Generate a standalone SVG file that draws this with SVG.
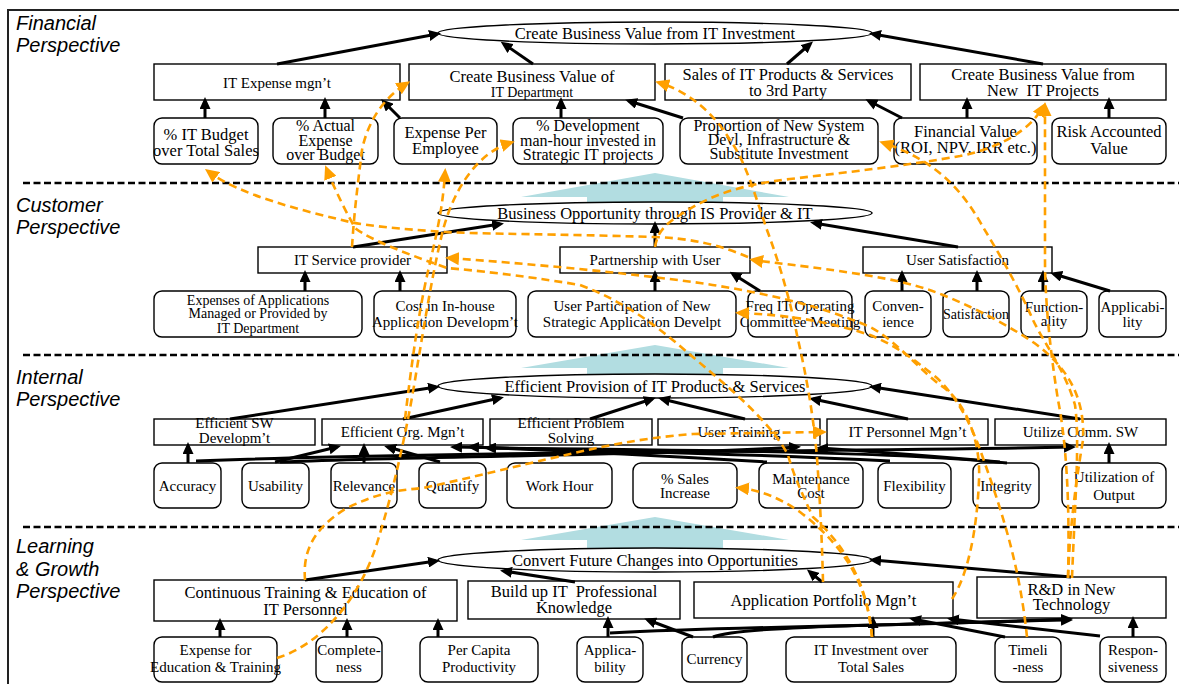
<svg xmlns="http://www.w3.org/2000/svg" width="1179" height="684" viewBox="0 0 1179 684">
<defs>
<style>
.n rect{fill:#fff;stroke:#000;stroke-width:1.4}
.n ellipse{fill:#fff;stroke:#000;stroke-width:1.4}
text{font-family:"Liberation Serif","Times New Roman",serif;fill:#000;text-anchor:middle}
.a{font-size:16.5px}
.a3{font-size:16px}
.b{font-size:15px}
.c{font-size:14px}
.lbl{font-family:"Liberation Sans",Arial,sans-serif;font-style:italic;font-size:20px;text-anchor:start}
.sep{stroke:#000;stroke-width:2.5;stroke-dasharray:7 3.5}
.k{stroke:#000;stroke-width:3;fill:none;marker-end:url(#ah)}
.o{stroke:#FFA000;stroke-width:2.6;stroke-dasharray:8 5;fill:none;marker-end:url(#oh)}
.tl{fill:#B2DDE1}
</style>
<marker id="ah" markerWidth="12" markerHeight="11" refX="8" refY="5.5" orient="auto" markerUnits="userSpaceOnUse"><path d="M0,0 L12,5.5 L0,11 z" fill="#000"/></marker>
<marker id="oh" markerWidth="14" markerHeight="13" refX="9" refY="6.5" orient="auto" markerUnits="userSpaceOnUse"><path d="M0,0 L14,6.5 L0,13 z" fill="#FFA000"/></marker>
</defs>
<rect width="1179" height="684" fill="#fff"/>
<!-- frame -->
<path d="M8,684 V10 H1179" fill="none" stroke="#222" stroke-width="2"/>
<!-- section labels -->
<text class="lbl" x="16" y="30">Financial<tspan x="16" dy="22">Perspective</tspan></text>
<text class="lbl" x="16" y="212">Customer<tspan x="16" dy="22">Perspective</tspan></text>
<text class="lbl" x="16" y="384">Internal<tspan x="16" dy="22">Perspective</tspan></text>
<text class="lbl" x="16" y="553">Learning<tspan x="16" dy="23">&amp; Growth</tspan><tspan x="16" dy="22">Perspective</tspan></text>
<!-- upward block arrows between perspectives -->
<path class="tl" d="M655,173 L789,197 L723,197 V206 H587 V197 L521,197 z"/>
<path class="tl" d="M655,345 L789,368 L723,368 V378 H587 V368 L521,368 z"/>
<path class="tl" d="M655,517 L789,540 L723,540 V550 H587 V540 L521,540 z"/>
<!-- perspective separators -->
<line class="sep" x1="23" y1="183" x2="1179" y2="183"/>
<line class="sep" x1="23" y1="355" x2="1179" y2="355"/>
<line class="sep" x1="23" y1="527" x2="1179" y2="527"/>

<!-- Financial perspective -->
<g id="f-goal" class="n"><ellipse cx="655" cy="33" rx="217" ry="11"/><text class="a" x="655" y="39">Create Business Value from IT Investment</text></g>
<g id="f-expense" class="n"><rect x="154" y="64" width="246" height="36"/><text class="b" x="277" y="88">IT Expense mgn’t</text></g>
<g id="f-itdept" class="n"><rect x="409" y="64" width="246" height="36"/><text class="a" x="532" y="82">Create Business Value of<tspan class="c" x="532" dy="15">IT Department</tspan></text></g>
<g id="f-sales" class="n"><rect x="665" y="64" width="246" height="36"/><text class="a" x="788" y="80">Sales of IT Products &amp; Services<tspan x="788" dy="16">to 3rd Party</tspan></text></g>
<g id="f-newproj" class="n"><rect x="920" y="64" width="246" height="36"/><text class="a" x="1043" y="80" xml:space="preserve">Create Business Value from<tspan x="1043" dy="16">New  IT Projects</tspan></text></g>
<g id="f-budget" class="n"><rect x="154" y="118" width="104" height="46" rx="8"/><text class="a" x="206" y="140">% IT Budget<tspan x="206" dy="16">over Total Sales</tspan></text></g>
<g id="f-actual" class="n"><rect x="273" y="118" width="105" height="46" rx="8"/><text class="a3" x="325.5" y="131">% Actual<tspan x="325.5" dy="15">Expense</tspan><tspan x="325.5" dy="14">over Budget</tspan></text></g>
<g id="f-perempl" class="n"><rect x="394" y="118" width="103" height="46" rx="8"/><text class="a" x="445.5" y="138">Expense Per<tspan x="445.5" dy="16">Employee</tspan></text></g>
<g id="f-devhour" class="n"><rect x="513" y="118" width="150" height="46" rx="8"/><text class="a3" x="588" y="131">% Development<tspan x="588" dy="15">man-hour invested in</tspan><tspan x="588" dy="14">Strategic IT projects</tspan></text></g>
<g id="f-proportion" class="n"><rect x="680" y="118" width="198" height="46" rx="8"/><text class="a3" x="779" y="131">Proportion of New System<tspan x="779" dy="14">Devl, Infrastructure &amp;</tspan><tspan x="779" dy="14">Substitute Investment</tspan></text></g>
<g id="f-finvalue" class="n"><rect x="894" y="118" width="143" height="46" rx="8"/><text class="a" x="965.5" y="137">Financial Value<tspan x="965.5" dy="16">(ROI, NPV, IRR etc.)</tspan></text></g>
<g id="f-risk" class="n"><rect x="1052" y="118" width="114" height="46" rx="8"/><text class="a" x="1109" y="137">Risk Accounted<tspan x="1109" dy="17">Value</tspan></text></g>

<!-- Customer perspective -->
<g id="c-goal" class="n"><ellipse cx="655" cy="213" rx="217" ry="11"/><text class="a" x="655" y="219">Business Opportunity through IS Provider &amp; IT</text></g>
<g id="c-provider" class="n"><rect x="258" y="247" width="189" height="26"/><text class="b" x="352.5" y="265">IT Service provider</text></g>
<g id="c-partner" class="n"><rect x="560" y="247" width="190" height="26"/><text class="b" x="655" y="265">Partnership with User</text></g>
<g id="c-usersat" class="n"><rect x="863" y="247" width="189" height="26"/><text class="b" x="957.5" y="265">User Satisfaction</text></g>
<g id="c-appexp" class="n"><rect x="154" y="291" width="208" height="46" rx="8"/><text class="c" x="258" y="305">Expenses of Applications<tspan x="258" dy="13">Managed or Provided by</tspan><tspan x="258" dy="15">IT Department</tspan></text></g>
<g id="c-inhouse" class="n"><rect x="374" y="291" width="142" height="46" rx="8"/><text class="b" x="445" y="311">Cost in In-house<tspan x="445" dy="16">Application Developm’t</tspan></text></g>
<g id="c-particip" class="n"><rect x="528" y="291" width="208" height="46" rx="8"/><text class="b" x="632" y="311">User Participation of New<tspan x="632" dy="16">Strategic Application Develpt</tspan></text></g>
<g id="c-committee" class="n"><rect x="748" y="291" width="104" height="46" rx="8"/><text class="b" x="800" y="311">Freq IT Operating<tspan x="800" dy="16">Committee Meeting</tspan></text></g>
<g id="c-conven" class="n"><rect x="865" y="291" width="66" height="46" rx="8"/><text class="b" x="898" y="311">Conven-<tspan x="898" dy="16">ience</tspan></text></g>
<g id="c-satis" class="n"><rect x="943" y="291" width="66" height="46" rx="8"/><text class="c" x="976" y="319">Satisfaction</text></g>
<g id="c-function" class="n"><rect x="1021" y="291" width="66" height="46" rx="8"/><text class="b" x="1054" y="312">Function-<tspan x="1054" dy="14">ality</tspan></text></g>
<g id="c-applic" class="n"><rect x="1099" y="291" width="67" height="46" rx="8"/><text class="b" x="1132.5" y="312">Applicabi-<tspan x="1132.5" dy="15">lity</tspan></text></g>

<!-- Internal perspective -->
<g id="i-goal" class="n"><ellipse cx="655" cy="386" rx="217" ry="12"/><text class="a" x="655" y="392">Efficient Provision of IT Products &amp; Services</text></g>
<g id="i-swdev" class="n"><rect x="154" y="419" width="161" height="26"/><text class="b" x="234.5" y="428">Efficient SW<tspan x="234.5" dy="15">Developm’t</tspan></text></g>
<g id="i-org" class="n"><rect x="322" y="419" width="161" height="26"/><text class="b" x="402.5" y="437">Efficient Org. Mgn’t</text></g>
<g id="i-problem" class="n"><rect x="490" y="419" width="162" height="26"/><text class="b" x="571" y="428">Efficient Problem<tspan x="571" dy="15">Solving</tspan></text></g>
<g id="i-training" class="n"><rect x="658" y="419" width="162" height="26"/><text class="b" x="739" y="437">User Training</text></g>
<g id="i-personnel" class="n"><rect x="827" y="419" width="161" height="26"/><text class="b" x="907.5" y="437">IT Personnel Mgn’t</text></g>
<g id="i-commsw" class="n"><rect x="995" y="419" width="171" height="26"/><text class="b" x="1080.5" y="437">Utilize Comm. SW</text></g>
<g id="i-accuracy" class="n"><rect x="154" y="463" width="67" height="45" rx="8"/><text class="b" x="187.5" y="491">Accuracy</text></g>
<g id="i-usability" class="n"><rect x="242" y="463" width="67" height="45" rx="8"/><text class="b" x="275.5" y="491">Usability</text></g>
<g id="i-relevance" class="n"><rect x="331" y="463" width="66" height="45" rx="8"/><text class="b" x="364" y="491">Relevance</text></g>
<g id="i-quantify" class="n"><rect x="419" y="463" width="67" height="45" rx="8"/><text class="b" x="452.5" y="491">Quantify</text></g>
<g id="i-workhour" class="n"><rect x="507" y="463" width="105" height="45" rx="8"/><text class="b" x="559.5" y="491">Work Hour</text></g>
<g id="i-salesinc" class="n"><rect x="633" y="463" width="104" height="45" rx="8"/><text class="b" x="685" y="484">% Sales<tspan x="685" dy="14">Increase</tspan></text></g>
<g id="i-maint" class="n"><rect x="759" y="463" width="104" height="45" rx="8"/><text class="b" x="811" y="484">Maintenance<tspan x="811" dy="14">Cost</tspan></text></g>
<g id="i-flex" class="n"><rect x="878" y="463" width="73" height="45" rx="8"/><text class="b" x="914.5" y="491">Flexibility</text></g>
<g id="i-integrity" class="n"><rect x="973" y="463" width="66" height="45" rx="8"/><text class="b" x="1006" y="491">Integrity</text></g>
<g id="i-output" class="n"><rect x="1062" y="463" width="104" height="45" rx="8"/><text class="b" x="1114" y="482">Utilization of<tspan x="1114" dy="18">Output</tspan></text></g>

<!-- Learning & Growth perspective -->
<g id="l-goal" class="n"><ellipse cx="655" cy="560" rx="217" ry="12"/><text class="a" x="655" y="566">Convert Future Changes into Opportunities</text></g>
<g id="l-education" class="n"><rect x="154" y="580" width="303" height="41"/><text class="a" x="305.5" y="598">Continuous Training &amp; Education of<tspan x="305.5" dy="17">IT Personnel</tspan></text></g>
<g id="l-knowledge" class="n"><rect x="468" y="581" width="212" height="38"/><text class="a" x="574" y="597" xml:space="preserve">Build up IT  Professional<tspan x="574" dy="16">Knowledge</tspan></text></g>
<g id="l-portfolio" class="n"><rect x="694" y="582" width="259" height="36"/><text class="a" x="823.5" y="606">Application Portfolio Mgn’t</text></g>
<g id="l-rnd" class="n"><rect x="977" y="577" width="189" height="41"/><text class="a" x="1071.5" y="595">R&amp;D in New<tspan x="1071.5" dy="15">Technology</tspan></text></g>
<g id="l-eduexp" class="n"><rect x="154" y="637" width="123" height="45" rx="8"/><text class="b" x="215.5" y="655">Expense for<tspan x="215.5" dy="17">Education &amp; Training</tspan></text></g>
<g id="l-complete" class="n"><rect x="316" y="637" width="66" height="45" rx="8"/><text class="b" x="349" y="655">Complete-<tspan x="349" dy="17">ness</tspan></text></g>
<g id="l-percapita" class="n"><rect x="420" y="637" width="118" height="45" rx="8"/><text class="b" x="479" y="655">Per Capita<tspan x="479" dy="17">Productivity</tspan></text></g>
<g id="l-applic" class="n"><rect x="577" y="637" width="66" height="45" rx="8"/><text class="b" x="610" y="655">Applica-<tspan x="610" dy="17">bility</tspan></text></g>
<g id="l-currency" class="n"><rect x="682" y="637" width="65" height="45" rx="8"/><text class="b" x="714.5" y="664">Currency</text></g>
<g id="l-investment" class="n"><rect x="786" y="637" width="170" height="45" rx="8"/><text class="b" x="871" y="655">IT Investment over<tspan x="871" dy="17">Total Sales</tspan></text></g>
<g id="l-timeliness" class="n"><rect x="995" y="637" width="66" height="45" rx="8"/><text class="b" x="1028" y="655">Timeli<tspan x="1028" dy="17">-ness</tspan></text></g>
<g id="l-respons" class="n"><rect x="1100" y="637" width="66" height="45" rx="8"/><text class="b" x="1133" y="655">Respon-<tspan x="1133" dy="17">siveness</tspan></text></g>

<!-- cause-effect links within perspectives -->
<g id="links">
<path class="k" d="M277,64 L437,34"/>
<path class="k" d="M533,64 L504,44"/>
<path class="k" d="M787,64 L810,44"/>
<path class="k" d="M1043,64 L873,34"/>
<path class="k" d="M205,118 V101"/>
<path class="k" d="M325,118 V101"/>
<path class="k" d="M400,118 L384,102"/>
<path class="k" d="M561,118 V101"/>
<path class="k" d="M683,118 L629,101"/>
<path class="k" d="M902,118 L869,101"/>
<path class="k" d="M967,118 V101"/>
<path class="k" d="M1109,118 V101"/>

<path class="k" d="M353,247 L500,224"/>
<path class="k" d="M655,247 V225"/>
<path class="k" d="M958,247 L814,223"/>
<path class="k" d="M305,291 V274"/>
<path class="k" d="M400,291 V274"/>
<path class="k" d="M655,291 V274"/>
<path class="k" d="M760,291 L733,274"/>
<path class="k" d="M902,291 V274"/>
<path class="k" d="M977,291 V274"/>
<path class="k" d="M1043,291 V274"/>
<path class="k" d="M1110,291 L1054,274"/>

<path class="k" d="M230,419 L436,387"/>
<path class="k" d="M403,419 L500,398"/>
<path class="k" d="M590,419 L652,399"/>
<path class="k" d="M745,419 L662,399"/>
<path class="k" d="M908,419 L813,399"/>
<path class="k" d="M1080,419 L873,387"/>
<path class="k" d="M188,463 V446"/>
<path class="k" d="M196,461 C420,452 800,452 1072,447"/>
<path class="k" d="M275,462 L337,447"/>
<path class="k" d="M280,462 C450,455 650,456 797,447"/>
<path class="k" d="M364,463 V447"/>
<path class="k" d="M440,462 L388,447"/>
<path class="k" d="M767,462 C650,455 550,450 471,447"/>
<path class="k" d="M890,461 C750,454 600,450 454,447"/>
<path class="k" d="M1007,463 C900,452 700,450 488,448"/>
<path class="k" d="M1000,462 C920,455 880,452 820,448"/>
<path class="k" d="M1109,463 V446"/>

<path class="k" d="M305,580 L436,561"/>
<path class="k" d="M575,582 L504,571"/>
<path class="k" d="M822,582 L810,572"/>
<path class="k" d="M1071,577 L873,560"/>
<path class="k" d="M220,637 V622"/>
<path class="k" d="M347,637 V622"/>
<path class="k" d="M438,637 V622"/>
<path class="k" d="M608,637 V620"/>
<path class="k" d="M693,637 L648,620"/>
<path class="k" d="M873,637 V620"/>
<path class="k" d="M1133,637 V620"/>
<path class="k" d="M1005,637 L913,619"/>
<path class="k" d="M1100,636 L951,619"/>
<path class="k" d="M610,633 C750,626 900,626 1069,619"/>
<path class="k" d="M713,637 C735,628 820,626 1069,620"/>
</g>

<!-- links across perspectives -->
<g id="cross-links">
<path class="o" d="M277,658 C320,645 360,600 378,540 C392,495 405,440 415,380 C425,320 433,270 443,230 C455,185 480,152 510,143"/>
<path class="o" d="M405,419 C412,360 418,320 424,290 C432,250 442,220 445,173"/>
<path class="o" d="M352,247 C354,215 357,190 362,150 C368,120 385,97 406,84"/>
<path class="o" d="M872,637 C868,590 850,550 813,517 C800,490 792,470 788,455 C770,420 720,380 687,352 C650,320 620,300 580,285 C520,275 470,270 447,268 C410,255 370,240 355,228 C345,210 335,190 327,170"/>
<path class="o" d="M872,637 C868,590 850,550 800,512 C780,498 760,490 740,488"/>
<path class="o" d="M748,257 C720,245 690,238 653,237 C560,234 480,234 445,232 C400,229 370,226 350,222 C300,210 240,195 209,172"/>
<path class="o" d="M1068,578 C1070,520 1078,470 1083,440 C1085,400 1070,370 1037,345 C1013,328 980,310 943,295 C910,282 880,275 760,261 L754,260"/>
<path class="o" d="M305,580 C303,555 310,530 347,508 C380,492 400,490 423,488 C470,478 500,470 557,457 C600,447 640,438 693,434 L822,432"/>
<path class="o" d="M1068,578 C1070,500 1066,440 1058,400 C1050,350 1045,300 1045,260 L1045,107"/>
<path class="o" d="M1072,578 C1075,500 1080,440 1075,405 C1065,370 1045,345 1033,320 C1020,290 1000,255 983,227 C965,195 940,162 884,143"/>
<path class="o" d="M823,582 C822,540 820,500 817,458 C813,410 805,370 797,335 C790,300 780,265 767,230 C755,195 745,160 730,140 C715,115 690,92 660,83"/>
<path class="o" d="M655,247 C657,235 662,226 680,215 C710,195 740,185 790,179 C850,172 910,165 960,156 C1000,148 1030,130 1043,107"/>
<path class="o" d="M952,599 C968,575 977,530 979,480 C981,440 965,400 940,385 C915,365 895,340 870,327 C820,305 760,292 700,283 C620,272 530,264 450,258"/>
<path class="o" d="M1027,637 C1020,570 1005,520 983,458 C970,420 955,395 937,378 C915,360 895,345 870,335 C830,322 790,315 740,313"/>
</g>
</svg>
